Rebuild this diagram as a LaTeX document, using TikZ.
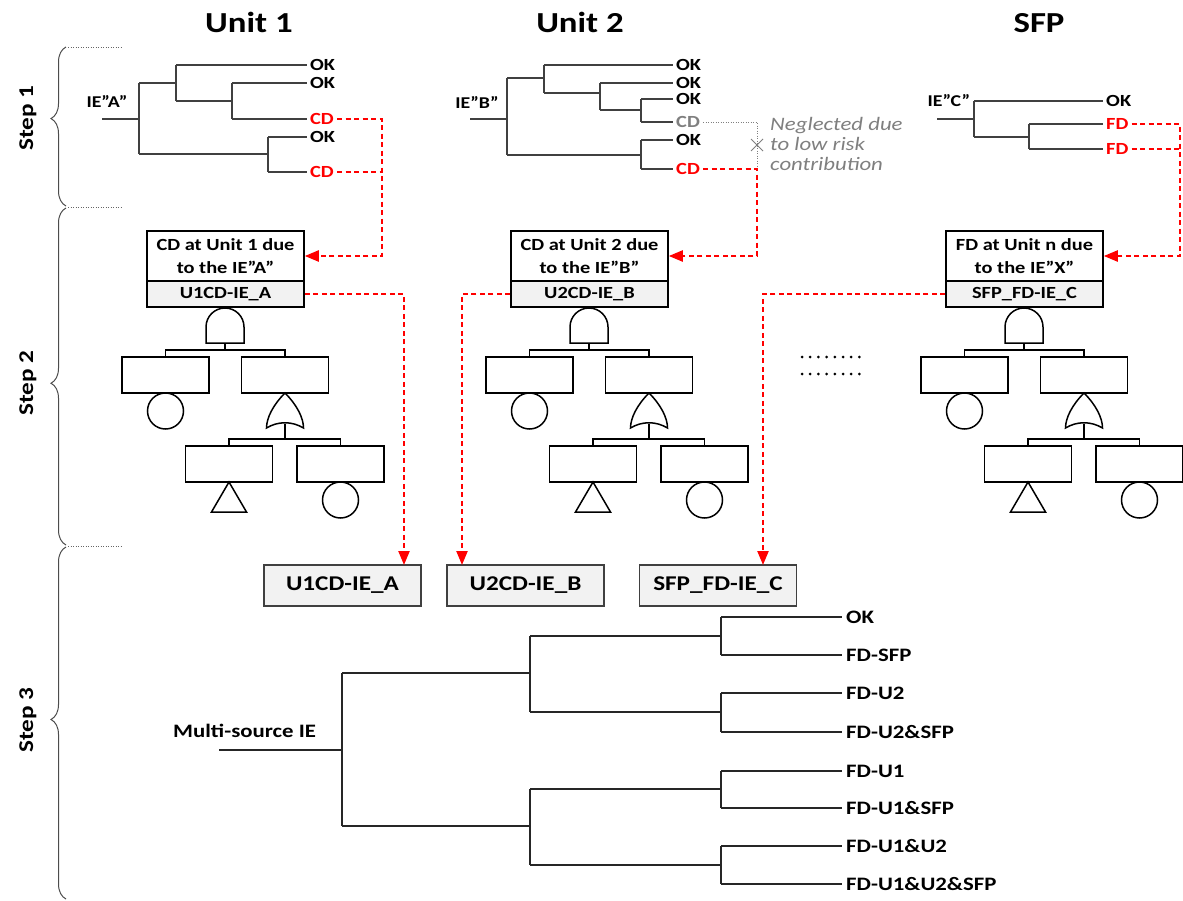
\documentclass[tikz,border=0pt]{standalone}
\usepackage{fontspec}
\setmainfont{Carlito}[FakeStretch=1.2]
\usetikzlibrary{arrows.meta,decorations.pathreplacing,calc}
\definecolor{boxgray}{HTML}{F2F2F2}
\definecolor{linegray}{HTML}{404040}
\definecolor{neggray}{HTML}{7F7F7F}
\newcommand{\faulttree}[4]{%
\begin{scope}[xshift=#1pt]
\node[topbox] (#2t) at (225.5,256) {#3};
\node[gbox] (#2g) at (225.5,294) {#4};
\draw[ft] (206,343) -- (206,327) .. controls (206,316.5) and (214.5,308) .. (225,308)
  .. controls (235.5,308) and (244,316.5) .. (244,327) -- (244,343) -- cycle;
\coordinate (#2and) at (225,343);
\node[evbox] (#2l) at (165.5,375) {};
\node[evbox] (#2r) at (285,375) {};
\draw[ft] (#2and) -- (225,350) (#2l.north) |- (225,350) -| (#2r.north);
\node[circ] (#2c1) at (165.5,411) {};
\draw[ft] (285,393) .. controls (273,405) and (266.5,418) .. (266.5,428)
  .. controls (278,421) and (292,421) .. (303.5,428)
  .. controls (303.5,418) and (297,405) .. (285,393) -- cycle;
\coordinate (#2or) at (285,424);
\node[evbox] (#2ll) at (229,464) {};
\node[evbox] (#2lr) at (340.5,464) {};
\draw[ft] (#2or) -- (285,439) (#2ll.north) |- (285,439) -| (#2lr.north);
\draw[ft] (229,482) -- (246.5,512) -- (211.5,512) -- cycle;
\node[circ] (#2c2) at (340.5,500) {};
\end{scope}}
\begin{document}
\begin{tikzpicture}[x=1pt,y=-1pt,
  hdr/.style={font=\bfseries\fontsize{29pt}{30pt}\selectfont, anchor=base, inner sep=0pt},
  steplbl/.style={font=\bfseries\fontsize{21pt}{22pt}\selectfont, rotate=90, inner sep=0pt},
  ielbl/.style={font=\bfseries\fontsize{16.5pt}{17pt}\selectfont, inner sep=0pt},
  lbl/.style={font=\bfseries\fontsize{17pt}{18pt}\selectfont, anchor=west, inner xsep=3pt, inner ysep=0pt, text height=11pt, text depth=0pt},
  s3lbl/.style={font=\bfseries\fontsize{19pt}{20pt}\selectfont, anchor=west, inner xsep=4pt, inner ysep=0pt, text height=12.5pt, text depth=0pt},
  et/.style={draw=linegray, line width=1.6pt},
  s3/.style={draw=black!85, line width=1.1pt},
  ft/.style={draw=black, line width=1.5pt},
  topbox/.style={draw=black, line width=1.5pt, minimum width=157pt, minimum height=50pt, inner sep=0pt, align=center, font=\bfseries\fontsize{17pt}{23pt}\selectfont},
  gbox/.style={draw=black, fill=boxgray, line width=1.5pt, minimum width=157pt, minimum height=26pt, inner sep=0pt, font=\bfseries\fontsize{17pt}{18pt}\selectfont},
  evbox/.style={draw=black, line width=1.5pt, minimum width=87pt, minimum height=36pt, inner sep=0pt},
  circ/.style={draw=black, line width=1.5pt, circle, minimum size=36pt, inner sep=0pt},
  bbox/.style={draw=linegray, fill=boxgray, line width=1.5pt, minimum width=157pt, minimum height=41pt, inner sep=0pt, font=\bfseries\fontsize{21pt}{22pt}\selectfont},
  reddash/.style={draw=red, line width=2.2pt, dash pattern=on 5pt off 3.5pt},
  arr/.style={-{Triangle[length=14pt,width=11pt]}},
  graydot/.style={draw=neggray, line width=0.9pt, dash pattern=on 1pt off 1.5pt},
  dotline/.style={draw=black!60, line width=0.9pt, dash pattern=on 1pt off 1.5pt},
  brc/.style={draw=black!70, line width=1pt, decorate},
  neg/.style={font=\itshape\fontsize{19pt}{20pt}\selectfont, text=neggray, align=left, inner sep=0pt, anchor=west},
]
\useasboundingbox (0,0) rectangle (1183,900);

% headers
\node[hdr] (h1) at (249,32) {Unit 1};
\node[hdr] (h2) at (580,32) {Unit 2};
\node[hdr] (h3) at (1039,32) {SFP};

% step labels and braces
\node[steplbl] (s1) at (28,118) {Step 1};
\node[steplbl] (s2) at (28,383) {Step 2};
\node[steplbl] (s3) at (28,720) {Step 3};
\draw[brc, decoration={brace, amplitude=15pt, aspect=0.55}] (66,206) -- (66,47);
\draw[brc, decoration={brace, amplitude=15pt, aspect=0.48}] (66,545) -- (66,208);
\draw[brc, decoration={brace, amplitude=15pt, aspect=0.51}] (66,899) -- (66,547);
\draw[dotline] (68,47) -- (122,47);
\draw[dotline] (68,207) -- (122,207);
\draw[dotline] (68,546) -- (122,546);

% ---------------- Unit 1 event tree
\node[ielbl] (ieA) at (107,101) {IE”A”};
\node[lbl] (a1) at (307,65) {OK};
\node[lbl] (a2) at (307,83) {OK};
\node[lbl, text=red] (a3) at (307,119) {CD};
\node[lbl] (a4) at (307,137) {OK};
\node[lbl, text=red] (a5) at (307,172) {CD};
\draw[et] (102,119) -- (139,119) (139,83) -- (139,154)
  (139,83) -- (176,83) (176,65) -- (176,101) (176,65) -- (a1.west)
  (176,101) -- (232,101) (232,83) -- (232,119) (232,83) -- (a2.west) (232,119) -- (a3.west)
  (139,154) -- (268,154) (268,137) -- (268,172) (268,137) -- (a4.west) (268,172) -- (a5.west);

% ---------------- Unit 2 event tree
\node[ielbl] (ieB) at (477,102) {IE”B”};
\node[lbl] (b1l) at (673,65) {OK};
\node[lbl] (b2l) at (673,83) {OK};
\node[lbl] (b3l) at (673,99) {OK};
\node[lbl, text=neggray] (b4l) at (673,122) {CD};
\node[lbl] (b5l) at (673,140) {OK};
\node[lbl, text=red] (b6l) at (673,169) {CD};
\draw[et] (470,119) -- (507,119) (507,78) -- (507,155)
  (507,78) -- (544,78) (544,65) -- (544,93) (544,65) -- (b1l.west)
  (544,93) -- (600,93) (600,83) -- (600,110) (600,83) -- (b2l.west)
  (600,110) -- (641,110) (641,99) -- (641,122) (641,99) -- (b3l.west) (641,122) -- (b4l.west)
  (507,155) -- (641,155) (641,140) -- (641,169) (641,140) -- (b5l.west) (641,169) -- (b6l.west);

% ---------------- SFP event tree
\node[ielbl] (ieC) at (949,101) {IE”C”};
\node[lbl] (c1l) at (1103,101) {OK};
\node[lbl, text=red] (c2l) at (1103,124) {FD};
\node[lbl, text=red] (c3l) at (1103,149) {FD};
\draw[et] (937,119) -- (974,119) (974,101) -- (974,137) (974,101) -- (c1l.west)
  (974,137) -- (1029,137) (1029,124) -- (1029,149) (1029,124) -- (c2l.west) (1029,149) -- (c3l.west);

% ---------------- fault trees
\faulttree{0}{u1}{CD at Unit 1 due\\to the IE”A”}{U1CD-IE\_A}
\faulttree{364}{u2}{CD at Unit 2 due\\to the IE”B”}{U2CD-IE\_B}
\faulttree{799}{u3}{FD at Unit n due\\to the IE”X”}{SFP\_FD-IE\_C}

% ellipsis dots
\foreach \i in {0,...,7} {
  \fill (802+\i*8.2,357) circle[radius=1.5pt];
  \fill (802+\i*8.2,374) circle[radius=1.5pt];
}

% ---------------- bottom boxes
\node[bbox] (bx1) at (342.5,585.5) {U1CD-IE\_A};
\node[bbox] (bx2) at (525.5,585.5) {U2CD-IE\_B};
\node[bbox] (bx3) at (718,585.5) {SFP\_FD-IE\_C};

% ---------------- red connectors
\coordinate (k1) at (382,256);
\draw[reddash, arr] (a3.east) -| (k1) -- (u1t.east);
\draw[reddash] (a5.east) -- (a5.east -| k1);
\coordinate (d1) at (404,565);
\draw[reddash, arr] (u1g.east) -| (d1);

\coordinate (k2) at (757,256);
\draw[graydot] (b4l.east) -| (757,169);
\draw[draw=neggray, line width=1pt] (751,139) -- (763,151) (751,151) -- (763,139);
\node[neg] (negtxt) at (770,144) {Neglected due\\to low risk\\contribution};
\draw[reddash, arr] (b6l.east) -| (k2) -- (u2t.east);
\coordinate (d2) at (462,565);
\draw[reddash, arr] (u2g.west) -| (d2);

\coordinate (k3) at (1180,256);
\draw[reddash, arr] (c2l.east) -| (k3) -- (u3t.east);
\draw[reddash] (c3l.east) -- (c3l.east -| k3);
\coordinate (d3) at (763,565);
\draw[reddash, arr] (u3g.west) -| (d3);

% ---------------- Step 3 event tree
\node[font=\bfseries\fontsize{19pt}{20pt}\selectfont, anchor=base west, inner sep=0pt] (ms) at (173,737) {Multi-source IE};
\node[s3lbl] (l1) at (842,617) {OK};
\node[s3lbl] (l2) at (842,655) {FD-SFP};
\node[s3lbl] (l3) at (842,693) {FD-U2};
\node[s3lbl] (l4) at (842,732) {FD-U2\&SFP};
\node[s3lbl] (l5) at (842,771) {FD-U1};
\node[s3lbl] (l6) at (842,808) {FD-U1\&SFP};
\node[s3lbl] (l7) at (842,846) {FD-U1\&U2};
\node[s3lbl] (l8) at (842,884) {FD-U1\&U2\&SFP};
\draw[s3] (219,750) -- (342,750) (342,673) -- (342,826)
  (342,673) -- (530,673) (530,636) -- (530,712)
  (530,636) -- (721,636) (721,617) -- (721,655) (721,617) -- (l1.west) (721,655) -- (l2.west)
  (530,712) -- (721,712) (721,693) -- (721,732) (721,693) -- (l3.west) (721,732) -- (l4.west)
  (342,826) -- (530,826) (530,789) -- (530,865)
  (530,789) -- (721,789) (721,771) -- (721,808) (721,771) -- (l5.west) (721,808) -- (l6.west)
  (530,865) -- (721,865) (721,846) -- (721,884) (721,846) -- (l7.west) (721,884) -- (l8.west);
\end{tikzpicture}
\end{document}
